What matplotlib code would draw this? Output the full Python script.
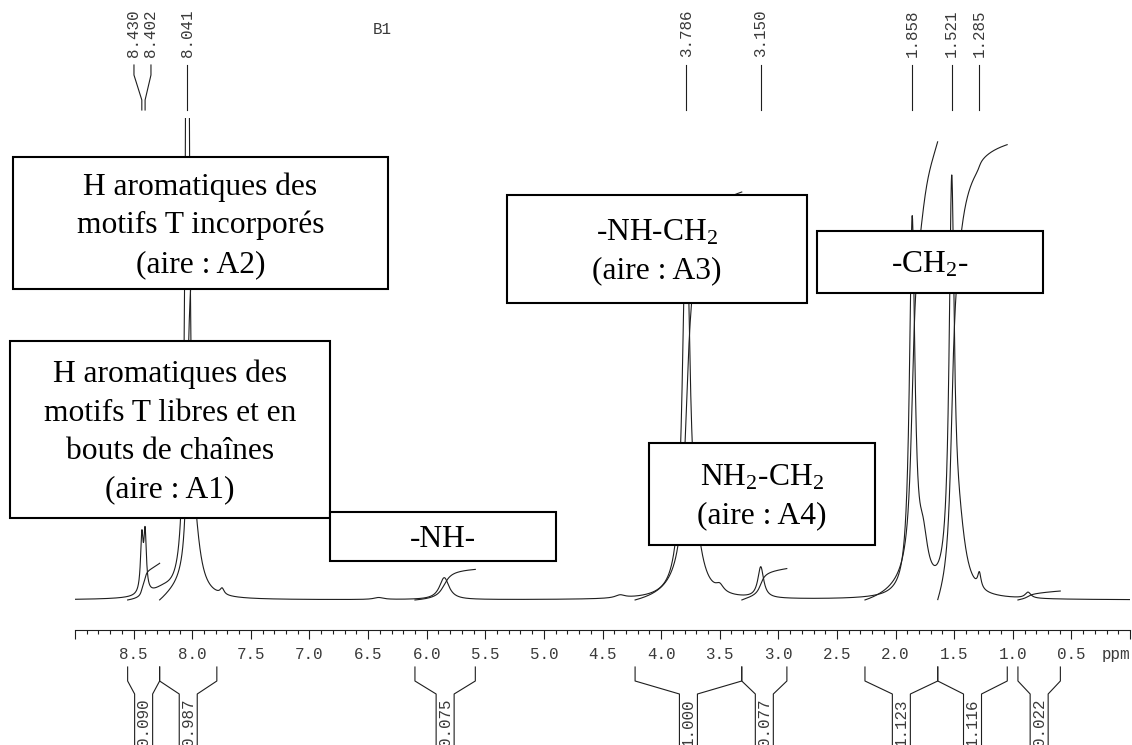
import numpy as np
import matplotlib
matplotlib.use("Agg")
import matplotlib.pyplot as plt
from matplotlib.patches import Rectangle
from matplotlib.ticker import MultipleLocator, FuncFormatter
from matplotlib.transforms import Bbox, TransformedBbox

# ---------------- data ----------------
# peaks of the 1H spectrum (ppm, height in plot units, half width at half max in ppm)
peak_ppm = [8.430, 8.402, 8.25, 8.041, 7.98, 7.745, 6.41, 5.85, 4.35,
            3.786, 3.70, 3.50, 3.150, 1.858, 1.766, 1.521, 1.46, 1.285, 0.87]
peak_height = [55, 58, 7, 900, 45, 6, 2, 22, 3,
               380, 28, 7, 31, 370, 45, 390, 55, 15, 6]
peak_hwhm = [0.013, 0.013, 0.12, 0.017, 0.06, 0.02, 0.05, 0.05, 0.05,
             0.038, 0.07, 0.04, 0.03, 0.028, 0.05, 0.026, 0.068, 0.017, 0.03]

# integration regions (start ppm, end ppm) and integral values
integral_start = [8.551, 8.278, 6.100, 4.222, 3.312, 2.261, 1.640, 0.956]
integral_end = [8.278, 7.790, 5.585, 3.312, 2.927, 1.640, 1.047, 0.594]
integral_values = [0.090, 0.987, 0.075, 1.000, 0.077, 1.123, 1.116, 0.022]

# peak picking labels
peak_labels = [8.430, 8.402, 8.041, 3.786, 3.150, 1.858, 1.521, 1.285]

# axis ticks
tick_values = [0.0, 0.5, 1.0, 1.5, 2.0, 2.5, 3.0, 3.5, 4.0, 4.5,
               5.0, 5.5, 6.0, 6.5, 7.0, 7.5, 8.0, 8.5, 9.0]

# annotation boxes (left, top, right, bottom in pixels) and their texts
box_left = [13, 10, 330, 507, 649, 817]
box_top = [157, 341, 512, 195, 443, 231]
box_right = [388, 330, 556, 807, 875, 1043]
box_bottom = [289, 518, 561, 303, 545, 293]
box_texts = [
    ["H aromatiques des", "motifs T incorporés", "(aire : A2)"],
    ["H aromatiques des", "motifs T libres et en", "bouts de chaînes", "(aire : A1)"],
    ["-NH-"],
    ["-NH-CH$_2$", "(aire : A3)"],
    ["NH$_2$-CH$_2$", "(aire : A4)"],
    ["-CH$_2$-"],
]

# ---------------- figure ----------------
W, H = 1132, 745
plt.rcParams["font.family"] = ["Liberation Mono", "DejaVu Sans"]
plt.rcParams["mathtext.fontset"] = "custom"
plt.rcParams["mathtext.rm"] = "Liberation Serif"
plt.rcParams["mathtext.it"] = "Liberation Serif:italic"
plt.rcParams["mathtext.bf"] = "Liberation Serif:bold"

fig = plt.figure(figsize=(W / 100, H / 100), dpi=100)
ax = fig.add_axes([75 / W, 0, 1055 / W, 1])
ax.set_xlim(9.0, 0.0)
ax.set_ylim(-145, 600)

LC = "#1e1e1e"
TC = "#3a3a3a"
MONO = 11.4

# plotting window of the spectrometer plot (peaks are cut at its top)
plot_clip = TransformedBbox(Bbox([[9.0, -20], [0.0, 482]]), ax.transData)

# spectrum
ppm = np.linspace(9.0, 0.0, 9001)
spec = np.zeros_like(ppm)
for p, h, w in zip(peak_ppm, peak_height, peak_hwhm):
    spec += h / (1.0 + ((ppm - p) / w) ** 2)
line, = ax.plot(ppm, spec, color=LC, lw=0.8, zorder=2)
line.set_clip_box(plot_clip)

# integral curves
K = 408.0
for a, b, v in zip(integral_start, integral_end, integral_values):
    m = (ppm <= a) & (ppm >= b)
    cum = np.cumsum(spec[m])
    cum = cum / cum[-1] * v * K
    ax.plot(ppm[m], cum, color=LC, lw=0.8, zorder=2)

# bracket marks with integral values under the axis
hw = 9 / 117.22
for a, b, v in zip(integral_start, integral_end, integral_values):
    c = (a + b) / 2
    ax.plot([a, a, c + hw, c + hw], [-67, -81, -94, -146], color=LC, lw=0.8,
            clip_on=False, zorder=2)
    ax.plot([b, b, c - hw, c - hw], [-67, -81, -94, -146], color=LC, lw=0.8,
            clip_on=False, zorder=2)
    ax.text(c, -98, f"{v:.3f}", rotation=90, ha="center", va="top",
            fontsize=MONO, color=TC)

# peak labels at the top
label_x = [8.497, 8.352, 8.041, 3.786, 3.150, 1.858, 1.521, 1.285]
for lab, lx in zip(peak_labels, label_x):
    ax.plot([lx, lx, lab, lab], [535, 525, 500, 490], color=LC, lw=0.8, zorder=2)
    ax.text(lx, 543, f"{lab:.3f}", rotation=90, ha="center", va="bottom",
            fontsize=MONO, color=TC)

ax.text(9.0 - (382 - 75) / 117.22, 600 - 30, "B1", ha="center", va="center",
        fontsize=MONO, color=TC)

# axis
for s in ["left", "right", "top"]:
    ax.spines[s].set_visible(False)
ax.spines["bottom"].set_position(("data", -30))
ax.spines["bottom"].set_color(LC)
ax.spines["bottom"].set_linewidth(0.8)
ax.set_yticks([])
ax.set_xticks(tick_values)
ax.xaxis.set_minor_locator(MultipleLocator(0.1))
ax.xaxis.set_major_formatter(FuncFormatter(
    lambda v, pos: "" if (v < 0.25 or v > 8.75) else f"{v:.1f}"))
ax.tick_params(axis="x", which="major", direction="out", length=6.5, width=0.8,
               color=LC, labelsize=MONO, labelcolor=TC, pad=5.5)
ax.tick_params(axis="x", which="minor", direction="out", length=3, width=0.8,
               color=LC)
ax.text(0.0, -47, "ppm", ha="right", va="top", fontsize=MONO, color=TC)

# annotation boxes
SERIF = 22.7
LS = 38.5
CAP = 20.8
for l, t, r, btm, lines in zip(box_left, box_top, box_right, box_bottom, box_texts):
    rect = Rectangle((l / W, 1 - btm / H), (r - l) / W, (btm - t) / H,
                     transform=fig.transFigure, facecolor="white",
                     edgecolor="black", lw=1.5, zorder=5, clip_on=False)
    ax.add_patch(rect)
    cx = (l + r) / 2
    cy = (t + btm) / 2
    n = len(lines)
    b1 = cy - ((n - 1) * LS - CAP) / 2
    for i, txt in enumerate(lines):
        y = b1 + i * LS
        ax.text(cx / W, 1 - y / H, txt, transform=fig.transFigure,
                ha="center", va="baseline", fontsize=SERIF,
                family=["Liberation Serif", "DejaVu Serif"], color="black",
                zorder=6)

fig.savefig("out.png", dpi=100)
